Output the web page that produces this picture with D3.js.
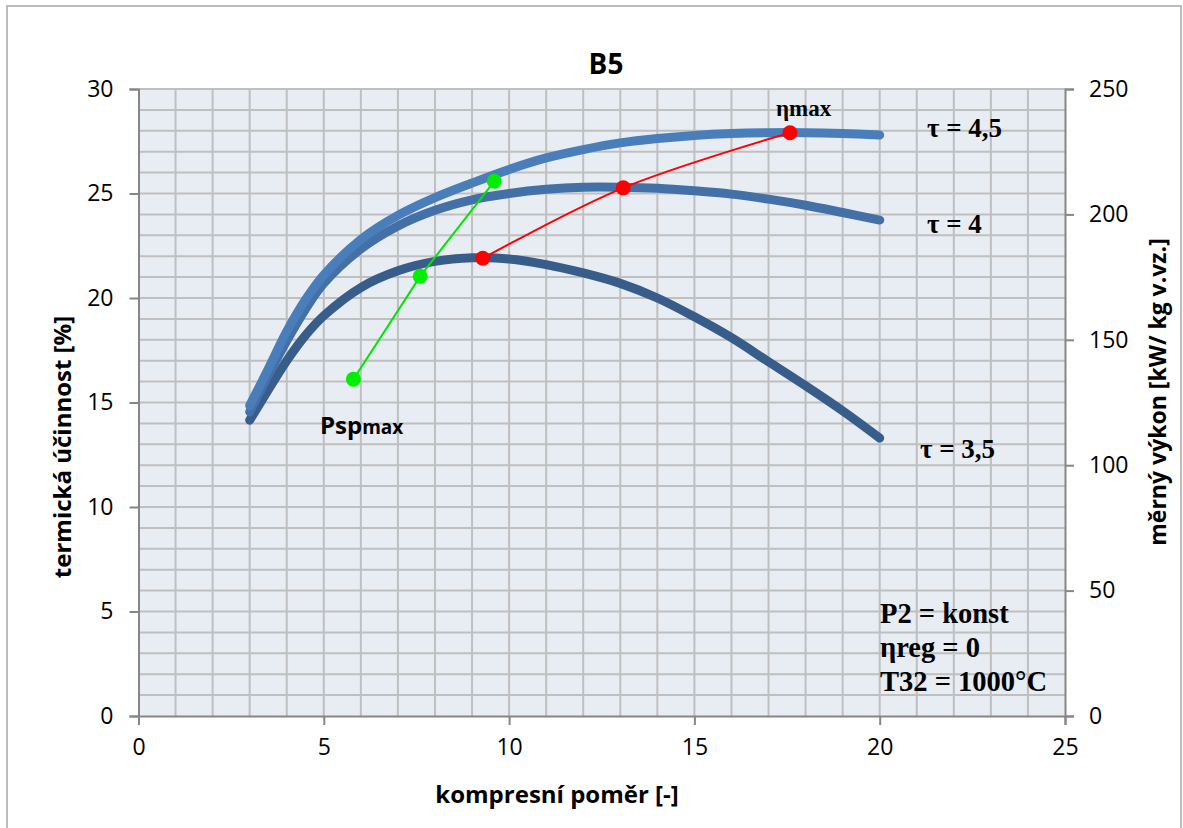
<!DOCTYPE html>
<html><head><meta charset="utf-8">
<script src="https://cdn.jsdelivr.net/npm/d3@7/dist/d3.min.js"></script>
<style>body{margin:0;background:#fff;overflow:hidden}</style>
</head><body><svg id="c" width="1183" height="828"></svg>
<script>
// ---- data ----
const compRatio = [3,3.5,4,4.5,5,6,7,8,9,10,11,12,13,14,15,16,17,18,19,20];
const effTau35 = [14.15,15.6,17.0,18.2,19.15,20.5,21.3,21.75,21.92,21.87,21.6,21.2,20.7,20.0,19.1,18.1,16.95,15.8,14.6,13.3];
const effTau40 = [14.55,16.3,17.95,19.45,20.7,22.35,23.45,24.2,24.7,25.0,25.2,25.3,25.3,25.25,25.13,24.97,24.73,24.44,24.09,23.73];
const effTau45 = [14.85,16.6,18.4,19.9,21.1,22.8,23.95,24.8,25.5,26.15,26.7,27.1,27.42,27.63,27.78,27.87,27.91,27.91,27.87,27.8];
const seriesNames = ["τ = 3,5","τ = 4","τ = 4,5"];
const etaMaxX = [9.29,13.08,17.58];
const etaMaxY = [21.9,25.27,27.91];
const pspMaxX = [5.8,7.6,9.6];
const pspMaxP = [134.3,175.3,213.2];
const xTicks = [0,5,10,15,20,25];
const yTicks = [0,5,10,15,20,25,30];
const y2Ticks = [0,50,100,150,200,250];
const infoLines = ["P2 = konst","ηreg = 0","T32 = 1000°C"];

// ---- layout ----
const svg = d3.select("#c");
const L=138.5, R=1065, T=89, B=716;
const x = d3.scaleLinear().domain([0,25]).range([L,R]);
const y = d3.scaleLinear().domain([0,30]).range([B,T]);
const y2 = d3.scaleLinear().domain([0,250]).range([B,T]);
const tickFont = "'Open Sans', 'Noto Sans', sans-serif";
const serif = "'Liberation Serif', 'DejaVu Serif', serif";

// outer border
svg.append("rect").attr("x",7).attr("y",6).attr("width",1174).attr("height",840)
  .attr("fill","#fff").attr("stroke","#a6a6a6").attr("stroke-width",1.5);

// plot background
svg.append("rect").attr("x",L).attr("y",T).attr("width",R-L).attr("height",B-T).attr("fill","#e8ecf3");

// grid
const g = svg.append("g");
g.selectAll(".vx").data(d3.range(1,25)).join("line")
  .attr("x1",d=>x(d)).attr("x2",d=>x(d)).attr("y1",T).attr("y2",B)
  .attr("stroke","#bfbfbf").attr("stroke-width",2);
g.selectAll(".hy").data(d3.range(1,31)).join("line")
  .attr("x1",L).attr("x2",R).attr("y1",d=>y(d)).attr("y2",d=>y(d))
  .attr("stroke","#bfbfbf").attr("stroke-width",2);

// axes
const axisColor="#868686";
const ax = svg.append("g").attr("transform",`translate(0,${B})`)
  .call(d3.axisBottom(x).tickValues(xTicks).tickSize(9).tickPadding(14));
const ay = svg.append("g").attr("transform",`translate(${L},0)`)
  .call(d3.axisLeft(y).tickValues(yTicks).tickSize(9).tickPadding(16));
const ay2 = svg.append("g").attr("transform",`translate(${R},0)`)
  .call(d3.axisRight(y2).tickValues(y2Ticks).tickSize(9).tickPadding(15));
[ax,ay,ay2].forEach(a=>{
  a.select(".domain").attr("stroke",axisColor).attr("stroke-width",2);
  a.selectAll(".tick line").attr("stroke",axisColor).attr("stroke-width",2);
  a.selectAll(".tick text").attr("font-family",tickFont).attr("font-size",23).attr("fill","#000");
});

// curves
const line = d3.line().x(d=>x(d[0])).y(d=>y(d[1])).curve(d3.curveCatmullRom.alpha(0.5));
const series = [effTau35,effTau40,effTau45];
const colors = ["#385d8a","#4470a8","#4a7ebb"];
series.forEach((s,i)=>{
  svg.append("path").datum(compRatio.map((c,j)=>[c,s[j]]))
    .attr("d",line).attr("fill","none").attr("stroke",colors[i])
    .attr("stroke-width",9).attr("stroke-linecap","round").attr("stroke-linejoin","round");
});

// eta max (red)
const etaPts = etaMaxX.map((v,i)=>[v,etaMaxY[i]]);
svg.append("path").datum(etaPts).attr("d",line).attr("fill","none").attr("stroke","#ff0000").attr("stroke-width",2);
svg.selectAll(".rd").data(etaPts).join("circle").attr("cx",d=>x(d[0])).attr("cy",d=>y(d[1])).attr("r",7.5).attr("fill","#ff0000");

// psp max (green) on right axis
const line2 = d3.line().x(d=>x(d[0])).y(d=>y2(d[1]));
const pspPts = pspMaxX.map((v,i)=>[v,pspMaxP[i]]);
svg.append("path").datum(pspPts).attr("d",line2).attr("fill","none").attr("stroke","#00e600").attr("stroke-width",2);
svg.selectAll(".gd").data(pspPts).join("circle").attr("cx",d=>x(d[0])).attr("cy",d=>y2(d[1])).attr("r",7.5).attr("fill","#00ee00");

// title
svg.append("text").attr("x",606).attr("y",74).attr("text-anchor","middle")
  .attr("font-family",tickFont).attr("font-weight","bold").attr("font-size",28).text("B5");

// axis titles
svg.append("text").attr("x",557).attr("y",803).attr("text-anchor","middle")
  .attr("font-family",tickFont).attr("font-weight","bold").attr("font-size",24).text("kompresní poměr [-]");
svg.append("text").attr("transform","translate(71,447) rotate(-90)").attr("text-anchor","middle")
  .attr("font-family",tickFont).attr("font-weight","bold").attr("font-size",24).text("termická účinnost [%]");
svg.append("text").attr("transform","translate(1166,392) rotate(-90)").attr("text-anchor","middle")
  .attr("font-family",tickFont).attr("font-weight","bold").attr("font-size",23).text("měrný výkon [kW/ kg v.vz.]");

// series labels
const labelPos = [[920,458],[927,233],[927,137]];
seriesNames.forEach((n,i)=>{
  svg.append("text").attr("x",labelPos[i][0]).attr("y",labelPos[i][1])
    .attr("font-family",serif).attr("font-weight","bold").attr("font-size",27).text(n);
});

// eta max label
svg.append("text").attr("x",776).attr("y",116).attr("font-family",serif).attr("font-weight","bold")
  .attr("font-size",23).text("ηmax");

// Psp max label
const pl = svg.append("text").attr("x",320).attr("y",434).attr("font-family",tickFont).attr("font-weight","bold");
pl.append("tspan").attr("font-size",24).text("Psp");
pl.append("tspan").attr("font-size",19).text("max");

// info box
infoLines.forEach((t,i)=>{
  svg.append("text").attr("x",880).attr("y",623+i*34).attr("font-family",serif)
    .attr("font-weight","bold").attr("font-size",28.5).text(t);
});
</script></body></html>
